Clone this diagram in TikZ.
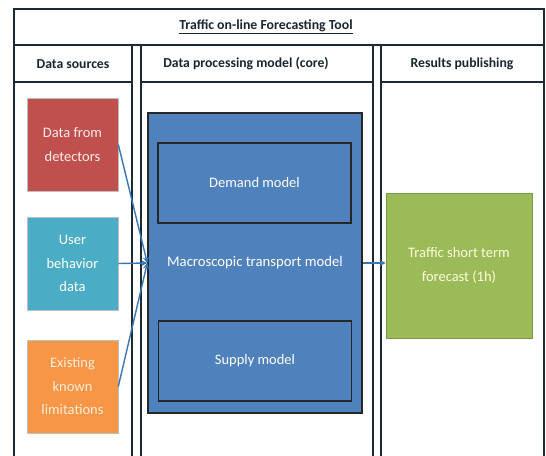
\documentclass[tikz,border=0pt]{standalone}
\usepackage{fontspec}
\setmainfont{Carlito}
\usetikzlibrary{arrows.meta}
\definecolor{frameline}{HTML}{1B2A36}
\definecolor{cred}{HTML}{C0504D}
\definecolor{cteal}{HTML}{4BACC6}
\definecolor{corange}{HTML}{F79646}
\definecolor{cblue}{HTML}{4F81BD}
\definecolor{cgreen}{HTML}{9BBB59}
\definecolor{carrow}{HTML}{3A76B6}
\definecolor{headtext}{HTML}{1A2530}
\tikzset{
  frame/.style={draw=frameline, line width=1.6pt},
  header/.style={font=\fontsize{13.7}{16}\selectfont\bfseries, text=headtext},
  srcbox/.style={minimum width=91pt, minimum height=93pt, inner sep=2pt, align=center,
    font=\fontsize{14.5}{23.5}\selectfont, text=white, draw=black!25, line width=0.6pt},
  inner/.style={draw=black!85, line width=1.4pt, fill=cblue, minimum width=193pt, minimum height=80pt,
    font=\fontsize{14.5}{17}\selectfont, text=white},
  link/.style={draw=carrow, line width=1.4pt, -{Stealth[length=6pt,width=6pt]}}
}
\begin{document}
\begin{tikzpicture}[x=1pt,y=-1pt]
\useasboundingbox (0,0) rectangle (546,455);
\fill[white] (0,0) rectangle (546,455);
% title box
\draw[frame] (14,9) rectangle (544,45);
\node[font=\fontsize{13.8}{16}\selectfont\bfseries, text=headtext] (title) at (266,27) {\underline{Traffic on-line Forecasting Tool}};
% columns
\draw[frame] (14,460) -- (14,45) -- (132,45) -- (132,460);
\draw[frame] (14,82) -- (132,82);
\draw[frame] (141,460) -- (141,45) -- (373,45) -- (373,460);
\draw[frame] (141,82) -- (373,82);
\draw[frame] (381,460) -- (381,45) -- (544,45) -- (544,460);
\draw[frame] (381,82) -- (544,82);
\node[header] (h1) at (73,64) {Data sources};
\node[header] (h2) at (246,64) {Data processing model (core)};
\node[header] (h3) at (462,64) {Results publishing};
% sources
\node[srcbox, fill=cred, text=red!8] (src1) at (72.5,144.5) {Data from\\detectors};
\node[srcbox, fill=cteal] (src2) at (72.5,263.5) {User\\behavior\\data};
\node[srcbox, fill=corange, text=orange!15] (src3) at (72.5,386.5) {Existing\\known\\limitations};
% core
\node[draw=black!85, line width=1.4pt, fill=cblue, minimum width=214pt, minimum height=300pt, inner sep=0pt] (core) at (255,263) {};
\node[font=\fontsize{14.7}{17}\selectfont, text=white] (mtm) at (255,263) {Macroscopic transport model};
\node[inner] (demand) at (254.5,183) {Demand model};
\node[inner] (supply) at (255,361) {Supply model};
% result
\node[minimum width=146pt, minimum height=145pt, fill=cgreen, draw=cgreen!80!black, line width=0.6pt, align=center,
  font=\fontsize{14.5}{23.5}\selectfont, text=yellow!15] (out) at (459,265.5) {Traffic short term\\forecast (1h)};
% arrows
\draw[link] (src1.east) -- (core.west);
\draw[link] (src2.east) -- (core.west);
\draw[link] (src3.east) -- (core.west);
\draw[link] (core.east) -- (core.east -| out.west);
\end{tikzpicture}
\end{document}
